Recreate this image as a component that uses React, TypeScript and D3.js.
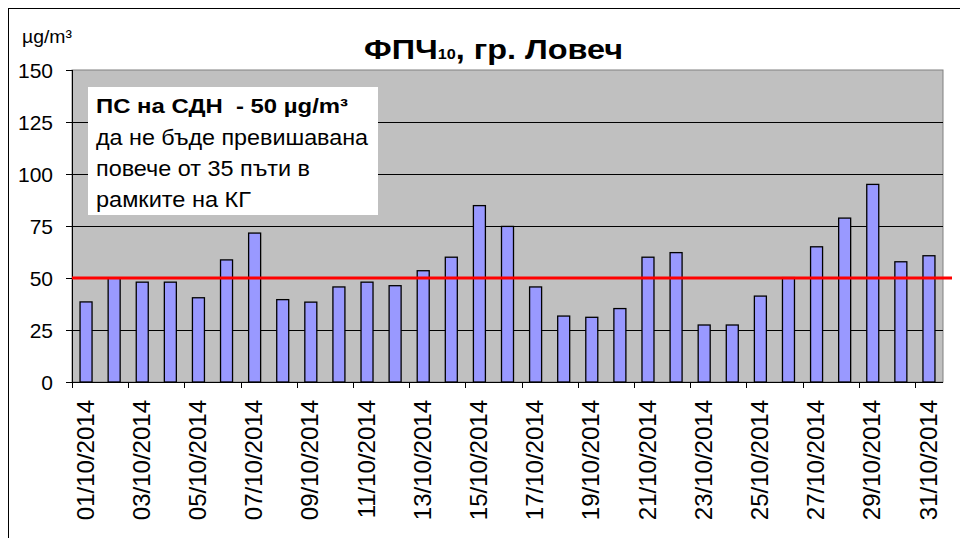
import React, { useRef, useEffect } from "react";
import * as d3 from "d3";

const days = d3.range(1, 32).map((d) => `${String(d).padStart(2, "0")}/10/2014`);
const pm10 = [
  38.5, 50, 48, 48, 40.5, 58.7, 71.6, 39.6, 38.4, 45.7, 48, 46.3, 53.5, 60, 84.8, 74.8,
  45.7, 31.7, 31.1, 35.3, 60, 62.2, 27.4, 27.4, 41.3, 50.2, 65, 78.8, 95, 57.8, 60.7,
];
const yTicks = [0, 25, 50, 75, 100, 125, 150];
const limit = 50;
const noteTitle = "ПС на СДН  - 50 µg/m³";
const noteLines = ["да не бъде превишавана", "повече от 35 пъти в", "рамките на КГ"];
const noteWidths = [272, 214, 155];

const W = 960;
const H = 538;
const PLOT = { left: 72, right: 943, top: 70, bottom: 382 };
const FONT = "'Liberation Sans', Arial, sans-serif";

export default function App() {
  const svgRef = useRef<SVGSVGElement>(null);

  useEffect(() => {
    const svg = d3.select(svgRef.current);
    svg.selectAll("*").remove();

    const x = d3.scaleBand().domain(days).range([PLOT.left, PLOT.right]);
    const y = d3.scaleLinear().domain([0, 150]).range([PLOT.bottom, PLOT.top]);
    const step = x.step();
    const barW = 12;

    // outer frame
    svg.append("rect")
      .attr("x", 8.5).attr("y", 8.5)
      .attr("width", W).attr("height", H)
      .attr("fill", "#fff").attr("stroke", "#000");

    // plot background
    svg.append("rect")
      .attr("x", PLOT.left).attr("y", PLOT.top)
      .attr("width", PLOT.right - PLOT.left).attr("height", PLOT.bottom - PLOT.top)
      .attr("fill", "#c0c0c0").attr("stroke", "#808080");

    // gridlines
    svg.selectAll("line.grid")
      .data(yTicks.filter((t) => t > 0 && t < 150))
      .join("line")
      .attr("class", "grid")
      .attr("x1", PLOT.left).attr("x2", PLOT.right)
      .attr("y1", (d) => Math.round(y(d)) + 0.5).attr("y2", (d) => Math.round(y(d)) + 0.5)
      .attr("stroke", "#000").attr("stroke-width", 1);

    // bars
    svg.selectAll("rect.bar")
      .data(pm10)
      .join("rect")
      .attr("class", "bar")
      .attr("x", (_, i) => x(days[i])! + step / 2 - barW / 2)
      .attr("y", (d) => y(d))
      .attr("width", barW)
      .attr("height", (d) => PLOT.bottom - y(d))
      .attr("fill", "#9999ff")
      .attr("stroke", "#000")
      .attr("stroke-width", 1.3);

    // y axis
    svg.append("line")
      .attr("x1", PLOT.left + 0.5).attr("x2", PLOT.left + 0.5)
      .attr("y1", PLOT.top).attr("y2", PLOT.bottom)
      .attr("stroke", "#000");
    svg.selectAll("line.ytick")
      .data(yTicks)
      .join("line")
      .attr("class", "ytick")
      .attr("x1", PLOT.left - 6).attr("x2", PLOT.left)
      .attr("y1", (d) => Math.round(y(d)) + 0.5).attr("y2", (d) => Math.round(y(d)) + 0.5)
      .attr("stroke", "#000");
    svg.selectAll("text.ylab")
      .data(yTicks)
      .join("text")
      .attr("class", "ylab")
      .attr("x", 53)
      .attr("y", (d) => y(d))
      .attr("dy", "0.36em")
      .attr("text-anchor", "end")
      .attr("font-family", FONT)
      .attr("font-size", 21)
      .text((d) => d);

    // x axis
    svg.append("line")
      .attr("x1", PLOT.left).attr("x2", PLOT.right)
      .attr("y1", PLOT.bottom + 0.5).attr("y2", PLOT.bottom + 0.5)
      .attr("stroke", "#000");
    const tickIdx = d3.range(0, days.length, 2);
    svg.selectAll("line.xtick")
      .data(tickIdx)
      .join("line")
      .attr("class", "xtick")
      .attr("x1", (i) => Math.round(x(days[i])!) + 0.5)
      .attr("x2", (i) => Math.round(x(days[i])!) + 0.5)
      .attr("y1", PLOT.bottom).attr("y2", PLOT.bottom + 6)
      .attr("stroke", "#000");
    svg.selectAll("text.xlab")
      .data(tickIdx)
      .join("text")
      .attr("class", "xlab")
      .attr("transform", (i) => `translate(${x(days[i])! + step / 2 - 1},400) rotate(-90)`)
      .attr("dy", "0.36em")
      .attr("text-anchor", "end")
      .attr("font-family", FONT)
      .attr("font-size", 24)
      .text((i) => days[i]);

    // limit line
    svg.append("line")
      .attr("x1", PLOT.left).attr("x2", 952)
      .attr("y1", y(limit)).attr("y2", y(limit))
      .attr("stroke", "#ff0000").attr("stroke-width", 3);

    // note box
    svg.append("rect")
      .attr("x", 88).attr("y", 87)
      .attr("width", 290).attr("height", 128)
      .attr("fill", "#fff");
    svg.append("text")
      .attr("x", 96).attr("y", 113)
      .attr("font-family", FONT)
      .attr("font-size", 21)
      .attr("font-weight", "bold")
      .attr("xml:space", "preserve")
      .attr("textLength", 252)
      .attr("lengthAdjust", "spacingAndGlyphs")
      .text(noteTitle);
    svg.selectAll("text.note")
      .data(noteLines)
      .join("text")
      .attr("class", "note")
      .attr("x", 96)
      .attr("y", (_, i) => 145 + i * 31)
      .attr("font-family", FONT)
      .attr("font-size", 22)
      .attr("textLength", (_, i) => noteWidths[i])
      .attr("lengthAdjust", "spacingAndGlyphs")
      .text((d) => d);

    // title
    const title = svg.append("text")
      .attr("x", 364).attr("y", 59)
      .attr("font-family", FONT)
      .attr("font-size", 28)
      .attr("font-weight", "bold")
      .attr("textLength", 259)
      .attr("lengthAdjust", "spacingAndGlyphs");
    title.append("tspan").text("ФПЧ");
    title.append("tspan").attr("font-size", 14).text("10");
    title.append("tspan").text(", гр. Ловеч");

    // unit
    svg.append("text")
      .attr("x", 22).attr("y", 43)
      .attr("font-family", FONT)
      .attr("font-size", 18)
      .attr("textLength", 50)
      .attr("lengthAdjust", "spacingAndGlyphs")
      .text("µg/m³");
  }, []);

  return (
    <svg
      ref={svgRef}
      width={W}
      height={H}
      style={{ position: "absolute", left: 0, top: 0, display: "block" }}
    />
  );
}
